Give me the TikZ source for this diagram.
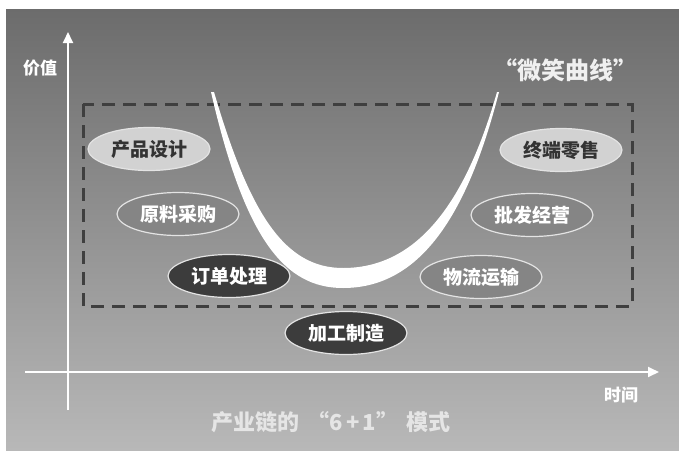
\documentclass[tikz,border=0pt]{standalone}
\usepackage{fontspec}
\setmainfont{Noto Sans CJK SC}
\usetikzlibrary{arrows.meta,shapes.geometric}
\definecolor{bgtop}{HTML}{6C6C6C}
\definecolor{bgbot}{HTML}{B8B8B8}
\definecolor{lightfill}{HTML}{D2D2D2}
\definecolor{midfill}{HTML}{858585}
\definecolor{darkfill}{HTML}{3C3C3C}
\definecolor{dashcol}{HTML}{3F3F3F}
\definecolor{rimcol}{HTML}{E4E4E4}
\begin{document}
\begin{tikzpicture}[x=1pt,y=-1pt,
  stage/.style={ellipse,minimum width=122pt,minimum height=43pt,inner sep=0pt,
    draw=rimcol,line width=1.2pt,font=\fontsize{19}{19}\selectfont\bfseries},
  lightstage/.style={stage,fill=lightfill,text=black!80},
  midstage/.style={stage,fill=midfill,text=white},
  darkstage/.style={stage,fill=darkfill,text=white},
  axis/.style={draw=white,line width=1.8pt,-{Triangle[length=11pt,width=10pt]}},
  axlabel/.style={text=white,font=\fontsize{17}{17}\selectfont\bfseries,inner sep=0pt},
  frame/.style={draw=dashcol,line width=3pt,dash pattern=on 13pt off 8pt}
]
\useasboundingbox (0,0) rectangle (679,450);
\fill[white] (0,0) rectangle (679,450);
\shade[top color=bgtop,bottom color=bgbot] (6,9) rectangle (679,450);

% dashed frame
\draw[frame] (83,104) rectangle (632,306);

% smile curve
\fill[white] (211,92) .. controls (245,240) and (285,288) .. (343,288)
  .. controls (415,288) and (465,225) .. (499,92)
  -- (497,92) .. controls (462,215) and (410,268) .. (343,268)
  .. controls (285,268) and (250,215) .. (214,92) -- cycle;

% axes
\coordinate (yb) at (68,410);
\coordinate (yt) at (68,32);
\coordinate (xl) at (25,372);
\coordinate (xr) at (659,372);
\draw[axis] (yb) -- (yt);
\draw[axis] (xl) -- (xr);
\node[axlabel] (val) at (40,68) {价值};
\node[axlabel] (time) at (621,395) {时间};

% title of curve
\node[text=white!94!black,font=\fontsize{24}{24}\selectfont\bfseries,inner sep=0pt] (smile) at (565,70) {“微笑曲线”};

% stages
\node[lightstage] (design) at (149,149) {产品设计};
\node[midstage] (purchase) at (178,214) {原料采购};
\node[darkstage] (order) at (229,276) {订单处理};
\node[darkstage] (make) at (346,333) {加工制造};
\node[midstage] (logistics) at (481,277) {物流运输};
\node[midstage] (wholesale) at (532,215) {批发经营};
\node[lightstage] (retail) at (561,150) {终端零售};

% bottom caption
\node[text=white!90!black,font=\fontsize{22}{22}\selectfont\bfseries,inner sep=0pt] (caption) at (331,422) {产业链的\hspace{8pt}“6\hspace{3pt}+\hspace{3pt}1”\hspace{8pt}模式};
\end{tikzpicture}
\end{document}
